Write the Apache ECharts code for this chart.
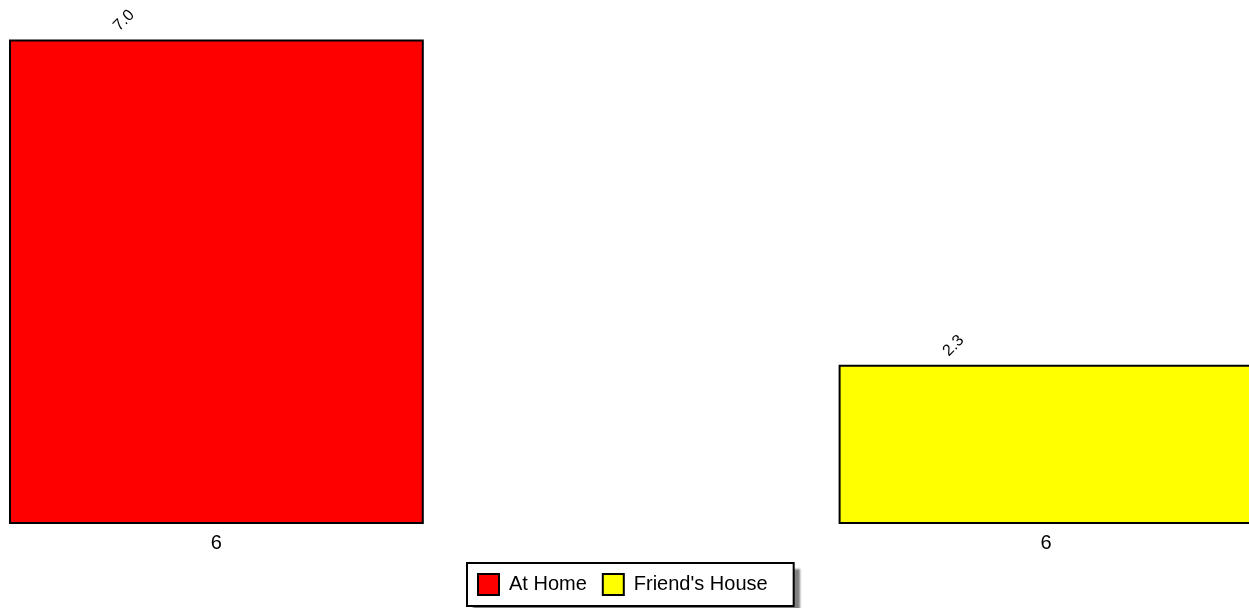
<!DOCTYPE html>
<html>
<head>
<meta charset="utf-8">
<style>
html,body{margin:0;padding:0;background:#fff;}
#chart{width:1249px;height:608px;}
</style>
<script src="https://cdn.jsdelivr.net/npm/echarts@6/dist/echarts.min.js"></script>
</head>
<body>
<div id="chart"></div>
<script>
var categories = ['6', '', '6'];
var seriesNames = ['At Home', "Friend's House"];
var atHome = [7.0, '-', '-'];
var friendsHouse = ['-', '-', 2.3];
var colors = ['#ff0000', '#ffff00'];

var chart = echarts.init(document.getElementById('chart'));
var font = 'Arial, "Liberation Sans", sans-serif';
function mkSeries(name, data, color) {
  return {
    name: name,
    type: 'bar',
    stack: 'all',
    barWidth: '100%',
    clip: false,
    data: data,
    itemStyle: { color: color, borderColor: '#000', borderWidth: 2 },
    label: {
      show: true,
      position: [115, -19],
      align: 'center',
      verticalAlign: 'middle',
      rotate: 45,
      color: '#000',
      fontFamily: font,
      fontSize: 16,
      formatter: function (p) { return Number(p.value).toFixed(1); }
    },
    emphasis: { disabled: true },
    animation: false
  };
}
var legendBase = {
  bottom: 2,
  left: 467,
  data: seriesNames,
  icon: 'rect',
  itemWidth: 21,
  itemHeight: 21,
  itemGap: 15,
  padding: [10, 26, 10, 10],
  backgroundColor: '#fff',
  borderRadius: 0,
  selectedMode: false,
  textStyle: { color: '#000', fontSize: 20, fontFamily: font, padding: [0, 0, 0, 5] },
  itemStyle: { borderColor: '#000', borderWidth: 2 }
};
chart.setOption({
  animation: false,
  textStyle: { fontFamily: font },
  grid: { left: 9, width: 1244.4, top: 39.5, bottom: 84, containLabel: false, outerBoundsMode: 'none' },
  xAxis: {
    type: 'category',
    data: categories,
    axisLine: { show: false },
    axisTick: { show: false },
    axisLabel: { interval: 0, color: '#000', fontSize: 20, fontFamily: font, margin: 9 }
  },
  yAxis: { type: 'value', min: 0, max: 7, show: false, splitLine: { show: false } },
  legend: [
    Object.assign({}, legendBase, {
      z: 3,
      borderWidth: 0,
      shadowColor: 'rgba(128,128,128,1)',
      shadowBlur: 2,
      shadowOffsetX: 6,
      shadowOffsetY: 6
    }),
    Object.assign({}, legendBase, {
      z: 4,
      borderColor: '#000',
      borderWidth: 2
    })
  ],
  series: [
    mkSeries(seriesNames[0], atHome, colors[0]),
    mkSeries(seriesNames[1], friendsHouse, colors[1])
  ]
});
</script>
</body>
</html>
